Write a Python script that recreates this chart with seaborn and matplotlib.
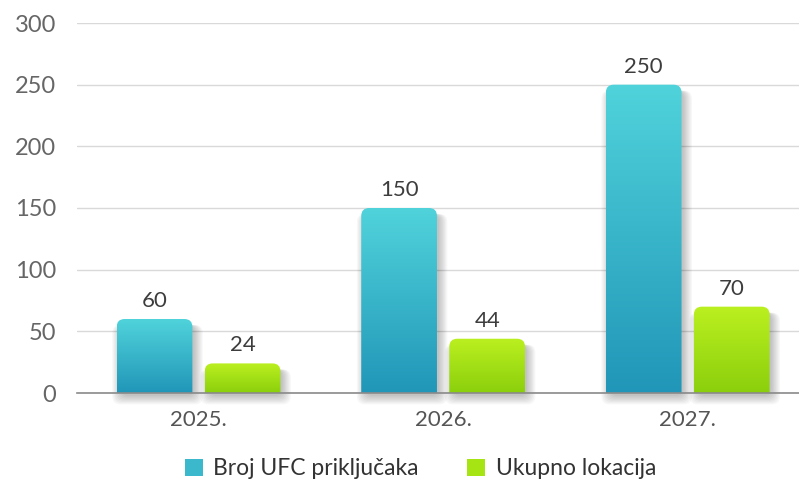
import numpy as np
import pandas as pd
import matplotlib
matplotlib.use("Agg")
import matplotlib.pyplot as plt
import seaborn as sns
from matplotlib.colors import LinearSegmentedColormap
from matplotlib.patches import FancyBboxPatch, Patch

# data
godine = ["2025.", "2026.", "2027."]
serije = ["Broj UFC priključaka", "Ukupno lokacija"]
ufc = [60, 150, 250]
lokacije = [24, 44, 70]

df = pd.DataFrame({
    "godina": godine * 2,
    "serija": [serije[0]] * 3 + [serije[1]] * 3,
    "vrijednost": ufc + lokacije,
})

# gradient colours (bottom -> top)
grad = {
    serije[0]: ("#2196b8", "#50d3db"),
    serije[1]: ("#8bcf0c", "#bbf020"),
}

sns.set_style("white")
plt.rcParams["font.family"] = ["Lato", "DejaVu Sans"]

fig = plt.figure(figsize=(7.99, 4.84), dpi=100)
ax = fig.add_axes([77 / 799, 91 / 484, 1 - 77 / 799, 370 / 484])

sns.barplot(data=df, x="godina", y="vrijednost", hue="serija",
            width=0.72, gap=0.14, ax=ax, legend=False,
            palette=[grad[s][1] for s in serije])

xlim = (-0.497, 2.455)
ylim = (0, 300)
# units per pixel, for rounded corners
px_x = (xlim[1] - xlim[0]) / (799 - 77)
px_y = (ylim[1] - ylim[0]) / 370
aspect = px_y / px_x
r = 8 * px_x

for serija, cont in zip(serije, ax.containers):
    cmap = LinearSegmentedColormap.from_list(serija, grad[serija])
    for bar in cont:
        bar.set_visible(False)
        x0, w, h = bar.get_x(), bar.get_width(), bar.get_height()
        # soft shadow, mostly to the right and below
        for k in range(8):
            pad = k * 1.2 * px_x
            s = FancyBboxPatch((x0 + 4 * px_x, -3 * px_y), w - 2 * px_x,
                               h + 3 * px_y - 6 * px_y - k * 1.2 * px_y,
                               boxstyle=f"round,pad={pad},rounding_size={r}",
                               mutation_aspect=aspect, fc="#000000", ec="none",
                               alpha=0.03, zorder=2, clip_on=False)
            ax.add_patch(s)
        clip = FancyBboxPatch((x0, -20), w, h + 20,
                              boxstyle=f"round,pad=0,rounding_size={r}",
                              mutation_aspect=aspect, fc="none", ec="none",
                              transform=ax.transData)
        ax.add_patch(clip)
        im = ax.imshow(np.linspace(0, 1, 256).reshape(-1, 1), cmap=cmap,
                       origin="lower", aspect="auto",
                       extent=[x0, x0 + w, 0, h], zorder=3)
        im.set_clip_path(clip)
        ax.text(x0 + w / 2, h + 8 * px_y, f"{h:.0f}", ha="center", va="bottom",
                fontsize=16, color="#3d3d3d", zorder=4)

ax.set_xlim(*xlim)
ax.set_ylim(*ylim)
ax.set_yticks(range(0, 301, 50))
ax.yaxis.grid(True, color="#d9d9d9", lw=1)
ax.set_axisbelow(True)
ax.tick_params(axis="y", length=0, pad=15, labelsize=17, labelcolor="#666666")
ax.tick_params(axis="x", length=0, pad=12, labelsize=16, labelcolor="#555555")
ax.set_xlabel("")
ax.set_ylabel("")
for sp in ["left", "right", "top"]:
    ax.spines[sp].set_visible(False)
ax.spines["bottom"].set_color("#8a8a8a")
ax.spines["bottom"].set_linewidth(1.2)
ax.spines["bottom"].set_zorder(5)

handles = [Patch(facecolor=c, edgecolor="none", label=s)
           for s, c in zip(serije, ["#3bb8cc", "#a6e414"])]
fig.legend(handles=handles, loc="center", bbox_to_anchor=(0.526, 0.031),
           ncol=2, frameon=False, fontsize=16.5, handlelength=0.8,
           handleheight=0.8, handletextpad=0.45, columnspacing=2.1,
           labelcolor="#333333")

fig.savefig("out.png", dpi=100)
